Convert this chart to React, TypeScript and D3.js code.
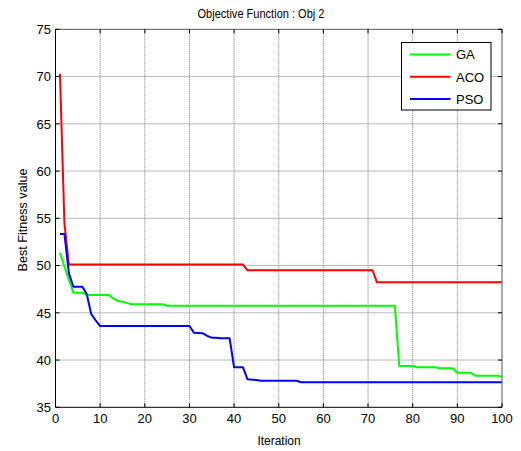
import React from 'react';
import * as d3 from 'd3';

// vertices of each convergence curve
const gaIter = [1, 2, 4, 6, 7, 12, 13, 14, 15, 16, 17, 24, 25, 76, 77, 80, 81, 85, 86, 89, 90, 93, 94, 99, 100];
const gaBest = [51.36, 49.9, 47.13, 47.13, 46.88, 46.88, 46.5, 46.25, 46.18, 46.05, 45.9, 45.9, 45.74, 45.74, 39.37, 39.37, 39.23, 39.23, 39.13, 39.13, 38.66, 38.66, 38.34, 38.34, 38.24];

const acoIter = [1, 2, 3, 42, 43, 71, 72, 100];
const acoBest = [70.3, 54.5, 50.1, 50.1, 49.5, 49.5, 48.23, 48.23];

const psoIter = [1, 2, 3, 4, 6, 7, 8, 9, 10, 30, 31, 33, 34, 35, 36, 37, 39, 40, 42, 43, 45, 46, 54, 55, 100];
const psoBest = [53.34, 53.34, 49.18, 47.76, 47.76, 46.99, 44.87, 44.2, 43.6, 43.6, 42.9, 42.83, 42.55, 42.37, 42.37, 42.3, 42.3, 39.23, 39.23, 37.96, 37.89, 37.81, 37.81, 37.65, 37.65];

const xTicks = [0, 10, 20, 30, 40, 50, 60, 70, 80, 90, 100];
const yTicks = [35, 40, 45, 50, 55, 60, 65, 70, 75];

const legendNames = ['GA', 'ACO', 'PSO'];
const legendColors = ['#00ff00', '#ff0000', '#0000ff'];

const App = () => {
    const width = 521;
    const height = 451;
    const font = '"Liberation Sans", Arial, sans-serif';

    const x = d3.scaleLinear().domain([0, 100]).range([55.5, 502]);
    const y = d3.scaleLinear().domain([35, 75]).range([407.3, 29.3]);

    const line = d3.line<[number, number]>()
        .x(d => x(d[0]))
        .y(d => y(d[1]));

    const series = [
        { name: 'GA', color: legendColors[0], pts: gaIter.map((t, i) => [t, gaBest[i]] as [number, number]) },
        { name: 'ACO', color: legendColors[1], pts: acoIter.map((t, i) => [t, acoBest[i]] as [number, number]) },
        { name: 'PSO', color: legendColors[2], pts: psoIter.map((t, i) => [t, psoBest[i]] as [number, number]) },
    ];

    const [x0, x1] = x.range();
    const [y0, y1] = y.range();
    const tickLen = 4;

    return (
        <div style={{ position: 'fixed', left: 0, top: 0 }}>
            <svg width={width} height={height} style={{ display: 'block', background: '#fff' }} fontFamily={font}>
                <rect x={0} y={0} width={width} height={height} fill="#fff" />

                {/* dotted grid */}
                {xTicks.slice(1, -1).map(t => (
                    <line key={'gx' + t} x1={x(t)} x2={x(t)} y1={y1} y2={y0}
                        stroke="#777" strokeDasharray="1 1" />
                ))}
                {yTicks.slice(1, -1).map(t => (
                    <line key={'gy' + t} x1={x0} x2={x1} y1={y(t)} y2={y(t)}
                        stroke="#777" strokeDasharray="1 1" />
                ))}

                {/* curves */}
                {series.map(s => (
                    <path key={s.name} d={line(s.pts) ?? ''} fill="none" stroke={s.color}
                        strokeWidth={2} strokeLinejoin="round" />
                ))}

                {/* box */}
                <line x1={x0} x2={x1} y1={y1} y2={y1} stroke="#555" />
                <line x1={x1} x2={x1} y1={y1} y2={y0} stroke="#555" />
                <line x1={x0} x2={x0} y1={y1} y2={y0} stroke="#000" />
                <line x1={x0} x2={x1} y1={y0} y2={y0} stroke="#000" />

                {/* ticks */}
                {xTicks.map(t => (
                    <g key={'tx' + t}>
                        <line x1={x(t)} x2={x(t)} y1={y0} y2={y0 - tickLen} stroke="#000" />
                        <line x1={x(t)} x2={x(t)} y1={y1} y2={y1 + tickLen} stroke="#000" />
                        <text x={x(t)} y={423} textAnchor="middle" fontSize={13} fill="#000">{t}</text>
                    </g>
                ))}
                {yTicks.map(t => (
                    <g key={'ty' + t}>
                        <line x1={x0} x2={x0 + tickLen} y1={y(t)} y2={y(t)} stroke="#000" />
                        <line x1={x1} x2={x1 - tickLen} y1={y(t)} y2={y(t)} stroke="#000" />
                        <text x={51} y={y(t) + 4.7} textAnchor="end" fontSize={13} fill="#000">{t}</text>
                    </g>
                ))}

                {/* labels */}
                <text transform="translate(261,18) scale(0.85,1)" textAnchor="middle" fontSize={13} fill="#000">Objective Function : Obj 2</text>
                <text transform="translate(279,444.5) scale(0.92,1)" textAnchor="middle" fontSize={13} fill="#000">Iteration</text>
                <text transform={`translate(27,220) rotate(-90)`} textAnchor="middle"
                    fontSize={12.6} fill="#000">Best Fitness value</text>

                {/* legend */}
                <rect x={401.5} y={42.5} width={89.5} height={67.5} fill="#fff" stroke="#000" />
                {legendNames.map((n, i) => (
                    <g key={n}>
                        <line x1={410} x2={450.5} y1={54.5 + i * 22.3} y2={54.5 + i * 22.3}
                            stroke={legendColors[i]} strokeWidth={2} />
                        <text x={456} y={54.5 + i * 22.3 + 4.8} fontSize={13} fill="#000">{n}</text>
                    </g>
                ))}
            </svg>
        </div>
    );
};

export default App;
